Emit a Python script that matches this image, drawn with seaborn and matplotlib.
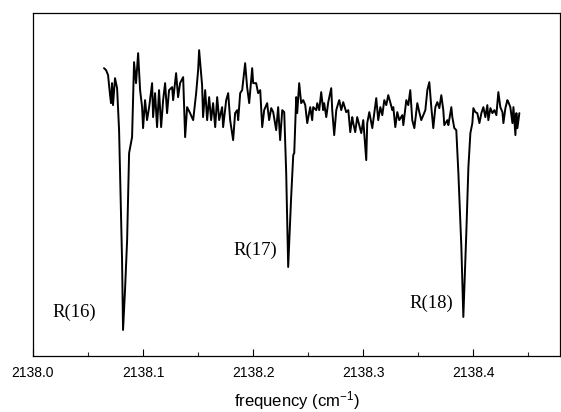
import numpy as np
import pandas as pd
import matplotlib
matplotlib.use("Agg")
import matplotlib.pyplot as plt
from matplotlib.ticker import MultipleLocator
import seaborn as sns

# frequency offset from 2138 cm-1
freq_offset = [
    0.0645, 0.0664, 0.0682, 0.0700, 0.0709, 0.0718, 0.0727, 0.0745, 0.0764, 0.0782,
    0.0791, 0.0809, 0.0818, 0.0836, 0.0855, 0.0873, 0.0900, 0.0909, 0.0918, 0.0936,
    0.0955, 0.0973, 0.0991, 0.1000, 0.1018, 0.1036, 0.1055, 0.1082, 0.1091, 0.1109,
    0.1127, 0.1145, 0.1164, 0.1182, 0.1200, 0.1218, 0.1236, 0.1264, 0.1273, 0.1300,
    0.1318, 0.1336, 0.1364, 0.1382, 0.1400, 0.1427, 0.1455, 0.1482, 0.1500, 0.1509,
    0.1536, 0.1545, 0.1564, 0.1582, 0.1600, 0.1618, 0.1636, 0.1655, 0.1673, 0.1691,
    0.1718, 0.1727, 0.1755, 0.1773, 0.1791, 0.1818, 0.1836, 0.1855, 0.1864, 0.1882,
    0.1900, 0.1927, 0.1945, 0.1964, 0.1991, 0.2000, 0.2027, 0.2045, 0.2064, 0.2082,
    0.2100, 0.2127, 0.2145, 0.2164, 0.2182, 0.2209, 0.2227, 0.2245, 0.2264, 0.2282,
    0.2300, 0.2318, 0.2345, 0.2364, 0.2373, 0.2391, 0.2400, 0.2418, 0.2436, 0.2455,
    0.2473, 0.2491, 0.2518, 0.2536, 0.2545, 0.2573, 0.2582, 0.2600, 0.2618, 0.2636,
    0.2645, 0.2664, 0.2682, 0.2709, 0.2718, 0.2736, 0.2755, 0.2773, 0.2782, 0.2800,
    0.2818, 0.2845, 0.2864, 0.2882, 0.2900, 0.2909, 0.2927, 0.2945, 0.2964, 0.2982,
    0.3000, 0.3027, 0.3036, 0.3055, 0.3082, 0.3100, 0.3118, 0.3136, 0.3155, 0.3173,
    0.3191, 0.3209, 0.3227, 0.3245, 0.3264, 0.3273, 0.3291, 0.3309, 0.3327, 0.3355,
    0.3364, 0.3391, 0.3409, 0.3427, 0.3445, 0.3464, 0.3491, 0.3509, 0.3527, 0.3545,
    0.3564, 0.3582, 0.3600, 0.3618, 0.3636, 0.3655, 0.3673, 0.3691, 0.3709, 0.3727,
    0.3736, 0.3764, 0.3773, 0.3800, 0.3809, 0.3827, 0.3845, 0.3864, 0.3891, 0.3909,
    0.3936, 0.3955, 0.3973, 0.3991, 0.4000, 0.4018, 0.4036, 0.4055, 0.4073, 0.4091,
    0.4109, 0.4127, 0.4136, 0.4155, 0.4173, 0.4191, 0.4209, 0.4227, 0.4245, 0.4264,
    0.4273, 0.4291, 0.4309, 0.4318, 0.4336, 0.4355, 0.4364, 0.4382, 0.4391, 0.4400,
    0.4418,
]

# signal, arbitrary units
signal = [
    288, 286, 281, 261, 253, 273, 251, 278, 268, 226,
    183, 96, 26, 66, 116, 203, 219, 256, 294, 273,
    303, 266, 249, 228, 256, 236, 249, 273, 239, 263,
    229, 266, 229, 256, 273, 243, 266, 269, 256, 283,
    259, 273, 279, 219, 249, 243, 236, 263, 286, 306,
    271, 239, 266, 236, 259, 236, 253, 229, 259, 236,
    249, 229, 256, 263, 236, 216, 243, 246, 236, 263,
    266, 293, 269, 253, 288, 273, 273, 263, 266, 229,
    246, 253, 236, 248, 244, 226, 249, 216, 246, 244,
    183, 89, 159, 201, 203, 259, 243, 273, 253, 256,
    251, 233, 249, 236, 249, 246, 253, 246, 264, 246,
    253, 239, 254, 268, 246, 221, 246, 253, 256, 246,
    254, 244, 246, 224, 239, 233, 224, 239, 231, 223,
    236, 196, 233, 244, 228, 243, 258, 236, 249, 241,
    256, 251, 261, 254, 246, 249, 229, 244, 236, 241,
    231, 256, 251, 266, 236, 228, 253, 244, 236, 241,
    246, 266, 274, 249, 228, 249, 254, 248, 261, 246,
    231, 236, 231, 249, 239, 228, 226, 183, 109, 39,
    123, 189, 223, 233, 248, 244, 243, 233, 243, 249,
    239, 251, 236, 248, 243, 246, 241, 264, 249, 244,
    233, 248, 256, 254, 249, 233, 249, 221, 243, 228,
    243,
]

line_labels = ["R(16)", "R(17)", "R(18)"]
label_freq = [2138.0573, 2138.2218, 2138.3818]
label_signal = [44, 106, 53]

df = pd.DataFrame({"freq": 2138.0 + np.array(freq_offset), "signal": signal})

sns.set_theme(style="ticks")
plt.rcParams["font.family"] = ["Liberation Sans", "DejaVu Sans"]
plt.rcParams["mathtext.fontset"] = "custom"
plt.rcParams["mathtext.rm"] = "Liberation Sans"
plt.rcParams["mathtext.it"] = "Liberation Sans:italic"

fig = plt.figure(figsize=(5.61, 4.12), dpi=100)
ax = fig.add_axes([0.0588, 0.136, 0.940, 0.832])

sns.lineplot(data=df, x="freq", y="signal", estimator=None, sort=False,
             color="black", linewidth=1.4, ax=ax)

for lab, fx, fy in zip(line_labels, label_freq, label_signal):
    ax.text(fx, fy, lab, ha="right", va="center", fontsize=13.5,
            family=["Liberation Serif", "DejaVu Serif"], color="black")

ax.set_xlim(2138.0, 2138.479)
ax.set_ylim(0, 343)
ax.xaxis.set_major_locator(MultipleLocator(0.1))
ax.xaxis.set_minor_locator(MultipleLocator(0.05))
ax.xaxis.set_major_formatter(matplotlib.ticker.FormatStrFormatter("%.1f"))
ax.tick_params(axis="x", which="major", direction="in", length=5, width=0.8,
               labelsize=10, pad=7, colors="black")
ax.tick_params(axis="x", which="minor", direction="in", length=3, width=0.8)
ax.set_yticks([])
ax.set_ylabel("")
ax.set_xlabel("frequency (cm$^{-1}$)", fontsize=12, labelpad=7, color="black")

for side in ["left", "right", "top", "bottom"]:
    ax.spines[side].set_visible(True)
    ax.spines[side].set_color("black")
    ax.spines[side].set_linewidth(0.9)

fig.savefig("out.png", dpi=100)
